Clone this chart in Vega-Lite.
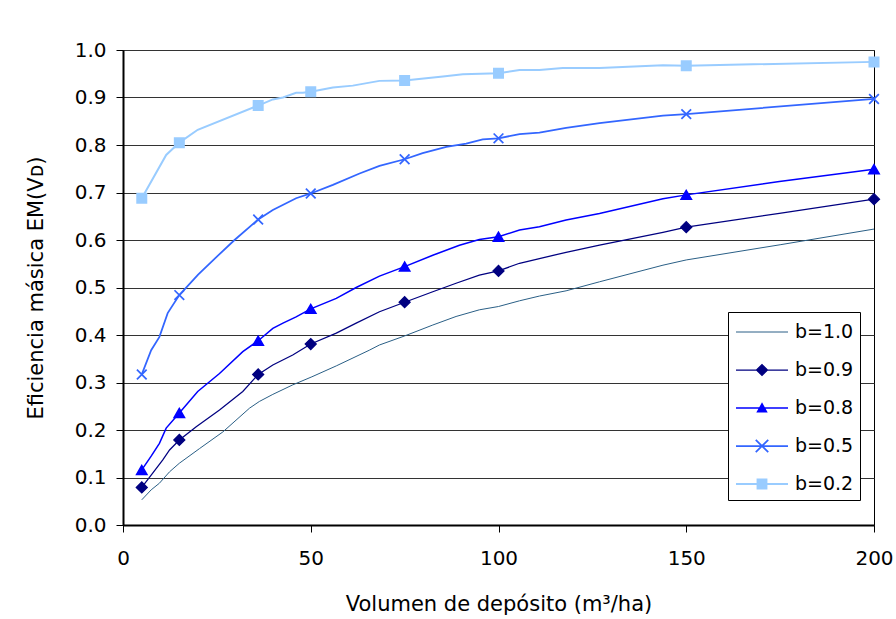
{
  "$schema": "https://vega.github.io/schema/vega-lite/v6.json",
  "width": 751,
  "height": 475,
  "autosize": "none",
  "padding": {"left": 123, "top": 50, "right": 22, "bottom": 94},
  "background": "white",
  "config": {
    "font": "DejaVu Sans",
    "view": {"stroke": "black", "strokeWidth": 1},
    "axis": {
      "labelFont": "DejaVu Sans",
      "labelFontSize": 20,
      "labelColor": "black",
      "titleFont": "DejaVu Sans",
      "titleFontSize": 21,
      "titleFontWeight": "normal",
      "titleColor": "black",
      "domainColor": "black",
      "domainWidth": 2,
      "tickColor": "black",
      "tickSize": 7,
      "tickWidth": 1,
      "gridColor": "#333333",
      "gridWidth": 1,
      "gridOpacity": 1
    }
  },
  "datasets": {
    "curves": [
      {"series": "b=1.0", "x": 5, "y": 0.053}, {"series": "b=1.0", "x": 7.5, "y": 0.074}, {"series": "b=1.0", "x": 9.7, "y": 0.088}, {"series": "b=1.0", "x": 12.4, "y": 0.112}, {"series": "b=1.0", "x": 15, "y": 0.130}, {"series": "b=1.0", "x": 20.4, "y": 0.161}, {"series": "b=1.0", "x": 26.6, "y": 0.196}, {"series": "b=1.0", "x": 33.7, "y": 0.246}, {"series": "b=1.0", "x": 36.3, "y": 0.260}, {"series": "b=1.0", "x": 39.9, "y": 0.275}, {"series": "b=1.0", "x": 45.2, "y": 0.295}, {"series": "b=1.0", "x": 50.3, "y": 0.312}, {"series": "b=1.0", "x": 56.8, "y": 0.335}, {"series": "b=1.0", "x": 65.6, "y": 0.368}, {"series": "b=1.0", "x": 68.3, "y": 0.379}, {"series": "b=1.0", "x": 75, "y": 0.398}, {"series": "b=1.0", "x": 82.5, "y": 0.421}, {"series": "b=1.0", "x": 88.7, "y": 0.439}, {"series": "b=1.0", "x": 94.9, "y": 0.453}, {"series": "b=1.0", "x": 100, "y": 0.460}, {"series": "b=1.0", "x": 105.6, "y": 0.472}, {"series": "b=1.0", "x": 110.9, "y": 0.482}, {"series": "b=1.0", "x": 118, "y": 0.493}, {"series": "b=1.0", "x": 126.9, "y": 0.512}, {"series": "b=1.0", "x": 143.8, "y": 0.547}, {"series": "b=1.0", "x": 150, "y": 0.558}, {"series": "b=1.0", "x": 175, "y": 0.590}, {"series": "b=1.0", "x": 200, "y": 0.623},
      {"series": "b=0.9", "x": 5, "y": 0.079}, {"series": "b=0.9", "x": 7.5, "y": 0.105}, {"series": "b=0.9", "x": 10.6, "y": 0.137}, {"series": "b=0.9", "x": 12.4, "y": 0.158}, {"series": "b=0.9", "x": 15, "y": 0.179}, {"series": "b=0.9", "x": 19.5, "y": 0.207}, {"series": "b=0.9", "x": 25.7, "y": 0.242}, {"series": "b=0.9", "x": 31.9, "y": 0.281}, {"series": "b=0.9", "x": 36, "y": 0.317}, {"series": "b=0.9", "x": 39.9, "y": 0.337}, {"series": "b=0.9", "x": 45.2, "y": 0.358}, {"series": "b=0.9", "x": 50, "y": 0.381}, {"series": "b=0.9", "x": 56.8, "y": 0.404}, {"series": "b=0.9", "x": 62.1, "y": 0.425}, {"series": "b=0.9", "x": 68.3, "y": 0.449}, {"series": "b=0.9", "x": 75, "y": 0.469}, {"series": "b=0.9", "x": 82.5, "y": 0.491}, {"series": "b=0.9", "x": 88.7, "y": 0.509}, {"series": "b=0.9", "x": 94.9, "y": 0.526}, {"series": "b=0.9", "x": 100, "y": 0.535}, {"series": "b=0.9", "x": 105.6, "y": 0.551}, {"series": "b=0.9", "x": 110.9, "y": 0.561}, {"series": "b=0.9", "x": 118, "y": 0.574}, {"series": "b=0.9", "x": 126.9, "y": 0.589}, {"series": "b=0.9", "x": 143.8, "y": 0.616}, {"series": "b=0.9", "x": 150, "y": 0.627}, {"series": "b=0.9", "x": 174.8, "y": 0.656}, {"series": "b=0.9", "x": 200, "y": 0.686},
      {"series": "b=0.8", "x": 5, "y": 0.116}, {"series": "b=0.8", "x": 7.5, "y": 0.145}, {"series": "b=0.8", "x": 9.7, "y": 0.172}, {"series": "b=0.8", "x": 11.5, "y": 0.204}, {"series": "b=0.8", "x": 15, "y": 0.236}, {"series": "b=0.8", "x": 19.9, "y": 0.281}, {"series": "b=0.8", "x": 25.7, "y": 0.319}, {"series": "b=0.8", "x": 31.9, "y": 0.365}, {"series": "b=0.8", "x": 36, "y": 0.388}, {"series": "b=0.8", "x": 39.9, "y": 0.414}, {"series": "b=0.8", "x": 42.6, "y": 0.425}, {"series": "b=0.8", "x": 46.1, "y": 0.438}, {"series": "b=0.8", "x": 50, "y": 0.455}, {"series": "b=0.8", "x": 56.8, "y": 0.477}, {"series": "b=0.8", "x": 62.1, "y": 0.500}, {"series": "b=0.8", "x": 68.3, "y": 0.524}, {"series": "b=0.8", "x": 75, "y": 0.544}, {"series": "b=0.8", "x": 82.5, "y": 0.568}, {"series": "b=0.8", "x": 89.6, "y": 0.589}, {"series": "b=0.8", "x": 94.9, "y": 0.601}, {"series": "b=0.8", "x": 100, "y": 0.607}, {"series": "b=0.8", "x": 105.6, "y": 0.621}, {"series": "b=0.8", "x": 110.9, "y": 0.628}, {"series": "b=0.8", "x": 118, "y": 0.642}, {"series": "b=0.8", "x": 126.9, "y": 0.656}, {"series": "b=0.8", "x": 143.8, "y": 0.687}, {"series": "b=0.8", "x": 150, "y": 0.695}, {"series": "b=0.8", "x": 174.8, "y": 0.723}, {"series": "b=0.8", "x": 200, "y": 0.749},
      {"series": "b=0.5", "x": 5, "y": 0.317}, {"series": "b=0.5", "x": 7.5, "y": 0.368}, {"series": "b=0.5", "x": 9.7, "y": 0.396}, {"series": "b=0.5", "x": 11.9, "y": 0.446}, {"series": "b=0.5", "x": 15, "y": 0.484}, {"series": "b=0.5", "x": 20, "y": 0.527}, {"series": "b=0.5", "x": 25, "y": 0.565}, {"series": "b=0.5", "x": 29.7, "y": 0.600}, {"series": "b=0.5", "x": 36, "y": 0.643}, {"series": "b=0.5", "x": 39.9, "y": 0.663}, {"series": "b=0.5", "x": 46.1, "y": 0.688}, {"series": "b=0.5", "x": 50, "y": 0.698}, {"series": "b=0.5", "x": 55.9, "y": 0.716}, {"series": "b=0.5", "x": 63, "y": 0.740}, {"series": "b=0.5", "x": 68.3, "y": 0.756}, {"series": "b=0.5", "x": 75, "y": 0.770}, {"series": "b=0.5", "x": 79.8, "y": 0.783}, {"series": "b=0.5", "x": 86.1, "y": 0.796}, {"series": "b=0.5", "x": 91.4, "y": 0.803}, {"series": "b=0.5", "x": 95.8, "y": 0.812}, {"series": "b=0.5", "x": 100, "y": 0.814}, {"series": "b=0.5", "x": 105.6, "y": 0.823}, {"series": "b=0.5", "x": 110.9, "y": 0.826}, {"series": "b=0.5", "x": 118, "y": 0.836}, {"series": "b=0.5", "x": 126.9, "y": 0.846}, {"series": "b=0.5", "x": 143.8, "y": 0.862}, {"series": "b=0.5", "x": 150, "y": 0.865}, {"series": "b=0.5", "x": 200, "y": 0.897},
      {"series": "b=0.2", "x": 5, "y": 0.688}, {"series": "b=0.2", "x": 11.5, "y": 0.779}, {"series": "b=0.2", "x": 15, "y": 0.805}, {"series": "b=0.2", "x": 19.9, "y": 0.832}, {"series": "b=0.2", "x": 36, "y": 0.883}, {"series": "b=0.2", "x": 39.9, "y": 0.896}, {"series": "b=0.2", "x": 42.6, "y": 0.900}, {"series": "b=0.2", "x": 46.1, "y": 0.910}, {"series": "b=0.2", "x": 47.9, "y": 0.910}, {"series": "b=0.2", "x": 50, "y": 0.912}, {"series": "b=0.2", "x": 55.9, "y": 0.921}, {"series": "b=0.2", "x": 61.2, "y": 0.925}, {"series": "b=0.2", "x": 68.3, "y": 0.935}, {"series": "b=0.2", "x": 75, "y": 0.936}, {"series": "b=0.2", "x": 85.2, "y": 0.944}, {"series": "b=0.2", "x": 90.5, "y": 0.949}, {"series": "b=0.2", "x": 100, "y": 0.951}, {"series": "b=0.2", "x": 105.6, "y": 0.958}, {"series": "b=0.2", "x": 110.9, "y": 0.958}, {"series": "b=0.2", "x": 117.1, "y": 0.962}, {"series": "b=0.2", "x": 126.9, "y": 0.962}, {"series": "b=0.2", "x": 143.8, "y": 0.968}, {"series": "b=0.2", "x": 150, "y": 0.967}, {"series": "b=0.2", "x": 200, "y": 0.975}
    ],
    "markers": [
      {"series": "b=0.9", "x": 5, "y": 0.079}, {"series": "b=0.9", "x": 15, "y": 0.179}, {"series": "b=0.9", "x": 36, "y": 0.317}, {"series": "b=0.9", "x": 50, "y": 0.381}, {"series": "b=0.9", "x": 75, "y": 0.469}, {"series": "b=0.9", "x": 100, "y": 0.535}, {"series": "b=0.9", "x": 150, "y": 0.627}, {"series": "b=0.9", "x": 200, "y": 0.686},
      {"series": "b=0.8", "x": 5, "y": 0.116}, {"series": "b=0.8", "x": 15, "y": 0.236}, {"series": "b=0.8", "x": 36, "y": 0.388}, {"series": "b=0.8", "x": 50, "y": 0.455}, {"series": "b=0.8", "x": 75, "y": 0.544}, {"series": "b=0.8", "x": 100, "y": 0.607}, {"series": "b=0.8", "x": 150, "y": 0.695}, {"series": "b=0.8", "x": 200, "y": 0.749},
      {"series": "b=0.5", "x": 5, "y": 0.317}, {"series": "b=0.5", "x": 15, "y": 0.484}, {"series": "b=0.5", "x": 36, "y": 0.643}, {"series": "b=0.5", "x": 50, "y": 0.698}, {"series": "b=0.5", "x": 75, "y": 0.770}, {"series": "b=0.5", "x": 100, "y": 0.814}, {"series": "b=0.5", "x": 150, "y": 0.865}, {"series": "b=0.5", "x": 200, "y": 0.897},
      {"series": "b=0.2", "x": 5, "y": 0.688}, {"series": "b=0.2", "x": 15, "y": 0.805}, {"series": "b=0.2", "x": 36, "y": 0.883}, {"series": "b=0.2", "x": 50, "y": 0.912}, {"series": "b=0.2", "x": 75, "y": 0.936}, {"series": "b=0.2", "x": 100, "y": 0.951}, {"series": "b=0.2", "x": 150, "y": 0.967}, {"series": "b=0.2", "x": 200, "y": 0.975}
    ]
  },
  "encoding": {
    "x": {
      "field": "x", "type": "quantitative",
      "scale": {"domain": [0, 200], "nice": false, "zero": false},
      "axis": {"values": [0, 50, 100, 150, 200], "grid": false, "labelPadding": 16, "titlePadding": 25, "title": "Volumen de depósito (m³/ha)", "labelFlush": false}
    },
    "y": {
      "field": "y", "type": "quantitative",
      "scale": {"domain": [0, 1], "nice": false},
      "axis": {"values": [0, 0.1, 0.2, 0.3, 0.4, 0.5, 0.6, 0.7, 0.8, 0.9, 1.0], "format": ".1f", "grid": true, "labelPadding": 10, "titlePadding": 28, "title": "Eficiencia másica EM(Vᴅ)", "labelFlush": false}
    }
  },
  "layer": [
    {
      "data": {"name": "curves"},
      "mark": {"type": "line", "interpolate": "linear"},
      "encoding": {
        "color": {
          "field": "series", "type": "nominal",
          "scale": {"domain": ["b=1.0", "b=0.9", "b=0.8", "b=0.5", "b=0.2"], "range": ["#2A5F86", "#000080", "#0000FF", "#3366FF", "#99CCFF"]},
          "legend": {
            "title": null,
            "orient": "none",
            "legendX": 605,
            "legendY": 262,
            "fillColor": "white",
            "strokeColor": "black",
            "padding": 6,
            "labelFont": "DejaVu Sans",
            "labelFontSize": 19,
            "labelColor": "black",
            "symbolSize": 784,
            "symbolType": "M-1,0L1,0",
            "labelOffset": 7,
            "rowPadding": 14,
            "encode": {
              "symbols": {
                "update": {
                  "shape": {"signal": "datum.value === 'b=1.0' ? 'M-1,0L1,0' : datum.value === 'b=0.9' ? 'M-1,0L1,0M-0.21,0L0,-0.21L0.21,0L0,0.21Z' : datum.value === 'b=0.8' ? 'M-1,0L1,0M0,-0.16L-0.17,0.14L0.17,0.14Z' : datum.value === 'b=0.5' ? 'M-1,0L1,0M-0.24,-0.24L0.24,0.24M-0.24,0.24L0.24,-0.24' : 'M-1,0L1,0M-0.17,-0.17L0.17,-0.17L0.17,0.17L-0.17,0.17Z'"},
                  "size": {"value": 2704},
                  "x": {"value": 28},
                  "y": {"value": 14},
                  "strokeWidth": {"signal": "datum.value === 'b=1.0' ? 1 : 2"},
                  "stroke": {"scale": "color", "field": "value"},
                  "fill": {"scale": "color", "field": "value"},
                  "opacity": {"value": 1}
                }
              },
              "labels": {
                "update": {
                  "y": {"value": 14}
                }
              }
            }
          }
        },
        "strokeWidth": {
          "field": "series", "type": "nominal",
          "scale": {"domain": ["b=1.0", "b=0.9", "b=0.8", "b=0.5", "b=0.2"], "range": [1, 2, 2, 2, 2]},
          "legend": null
        }
      }
    },
    {
      "data": {"name": "markers"},
      "mark": {"type": "point", "filled": true, "opacity": 1},
      "encoding": {
        "color": {"field": "series", "type": "nominal", "legend": null},
        "stroke": {
          "field": "series", "type": "nominal",
          "scale": {"domain": ["b=1.0", "b=0.9", "b=0.8", "b=0.5", "b=0.2"], "range": ["#2A5F86", "#000080", "#0000FF", "#3366FF", "#99CCFF"]},
          "legend": null
        },
        "strokeWidth": {
          "field": "series", "type": "nominal", "legend": null
        },
        "shape": {
          "field": "series", "type": "nominal",
          "scale": {"domain": ["b=0.9", "b=0.8", "b=0.5", "b=0.2"], "range": ["diamond", "triangle-up", "M-1,-1L1,1M-1,1L1,-1", "square"]},
          "legend": null
        },
        "size": {
          "field": "series", "type": "nominal",
          "scale": {"domain": ["b=0.9", "b=0.8", "b=0.5", "b=0.2"], "range": [121, 81, 160, 81]},
          "legend": null
        }
      }
    }
  ]
}
